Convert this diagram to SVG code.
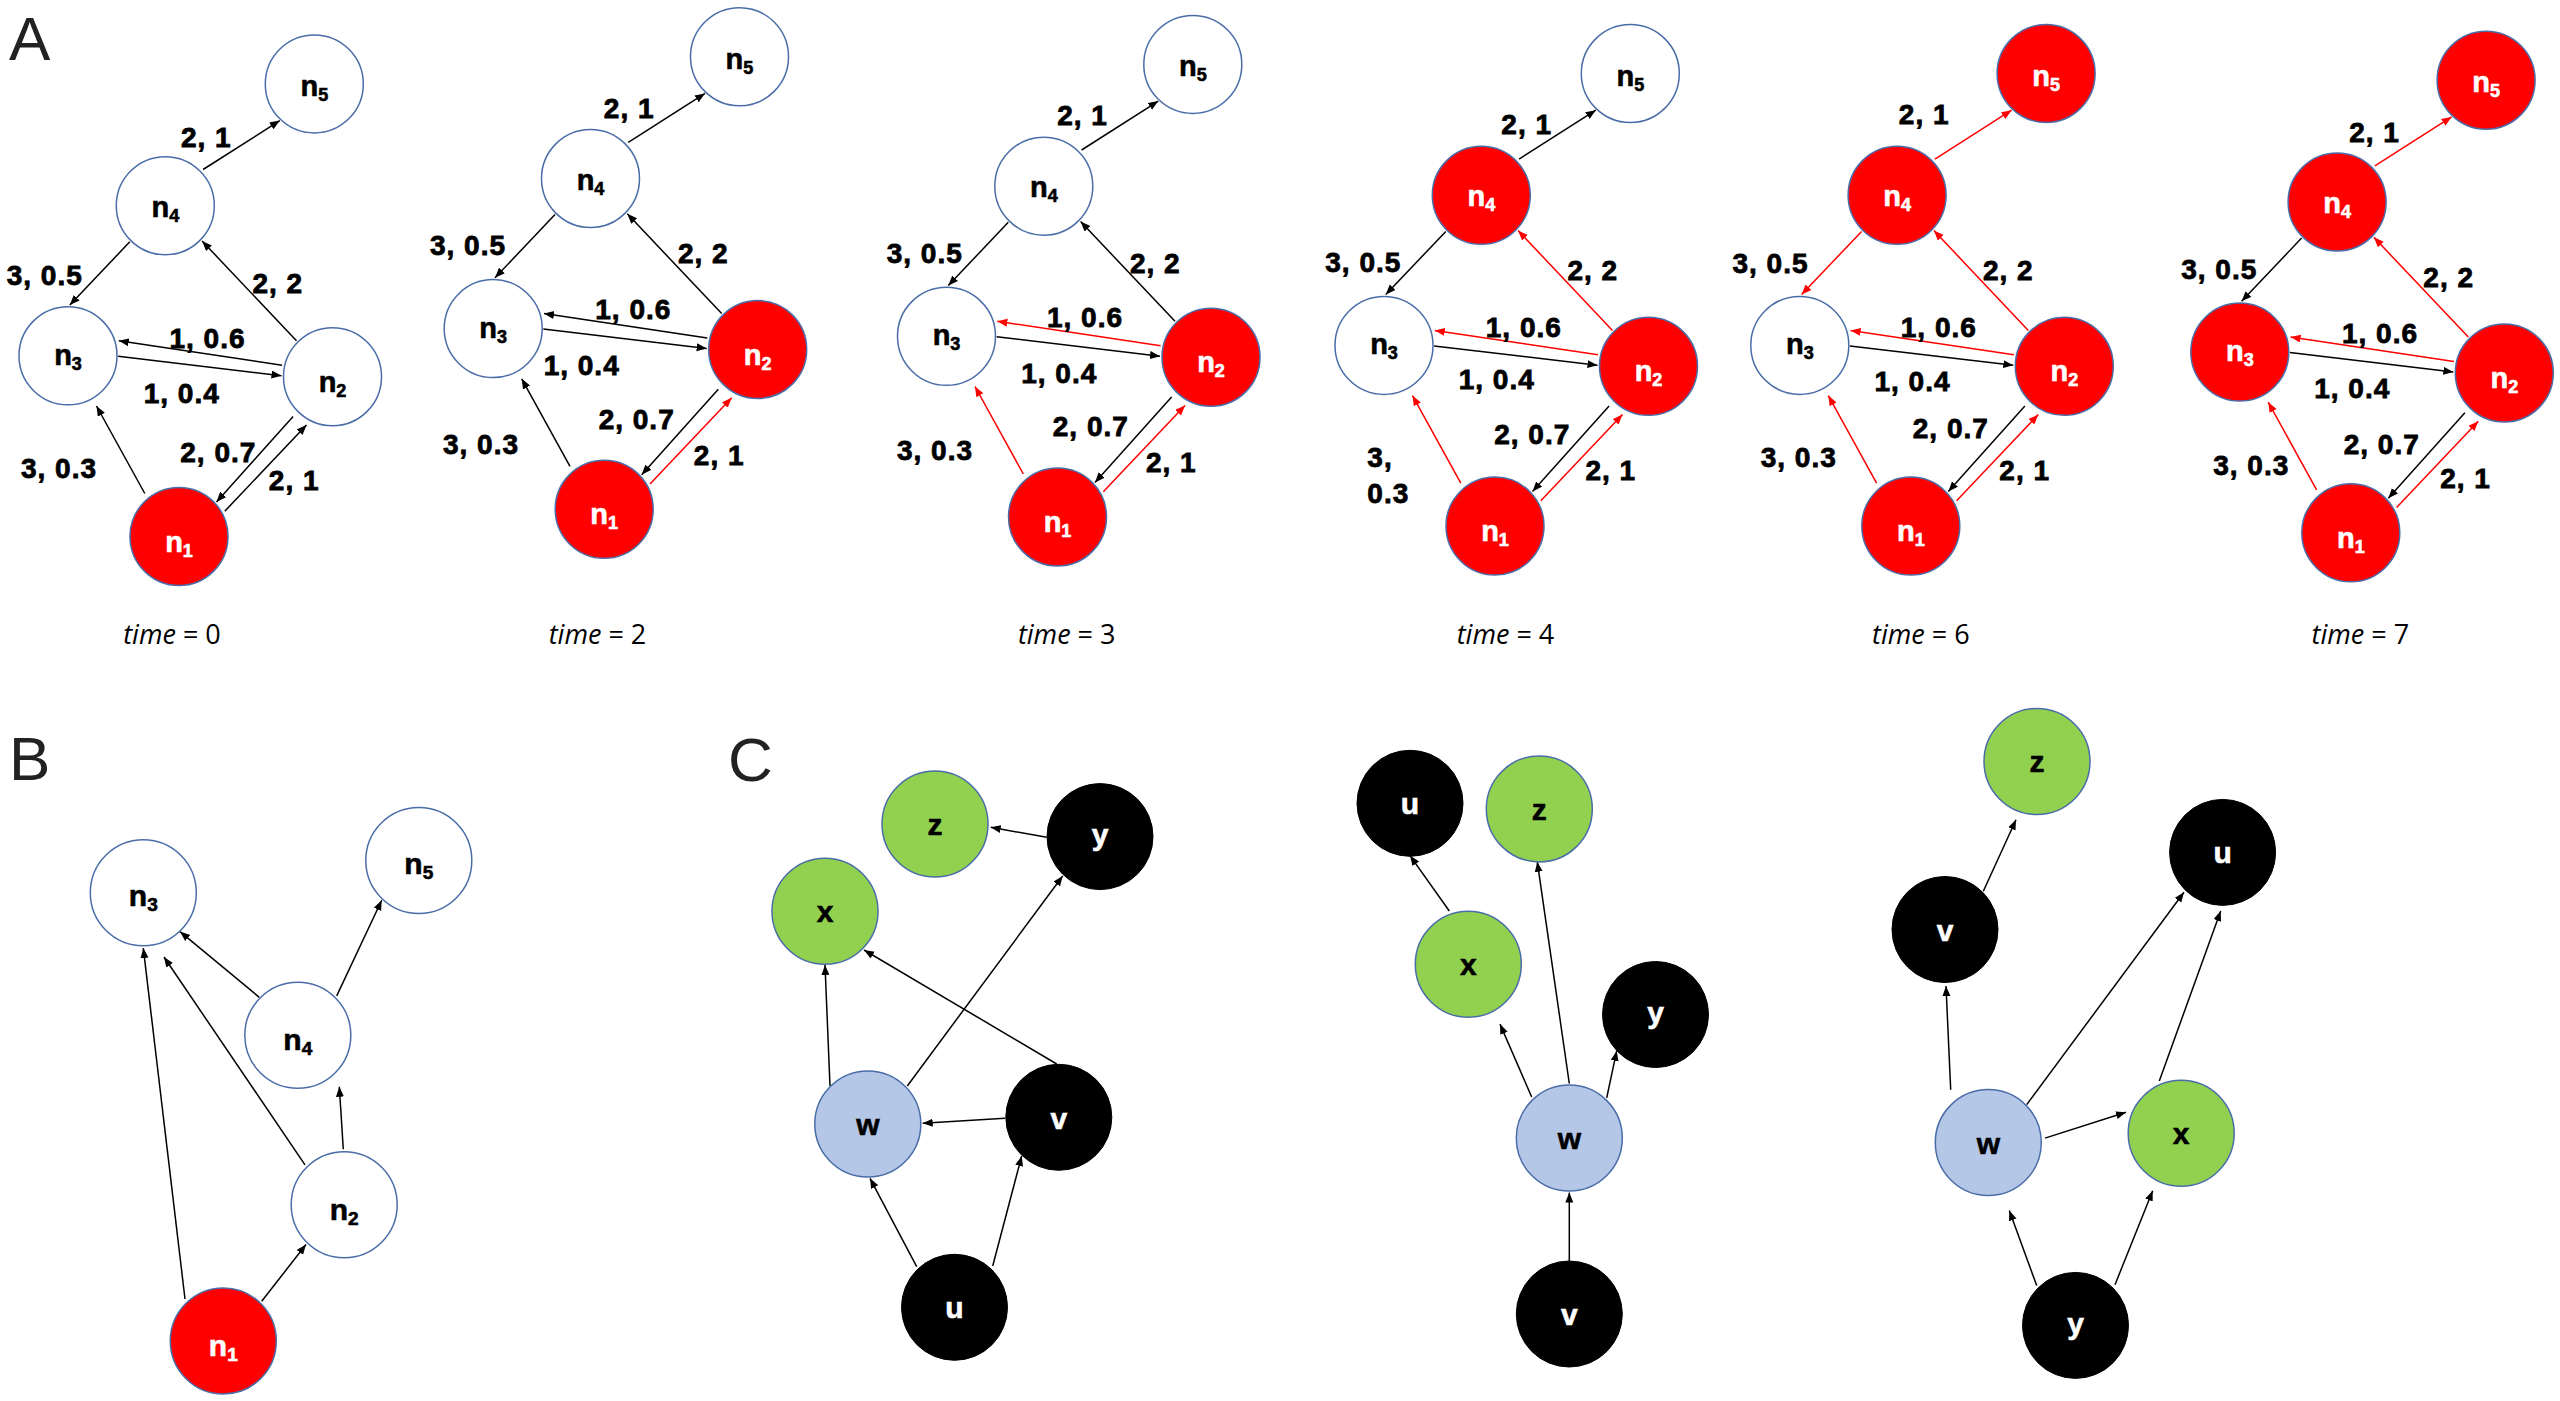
<svg xmlns="http://www.w3.org/2000/svg" width="2560" height="1401" viewBox="0 0 2560 1401">
<style>
.bg{fill:#fff}
.n{stroke:#4a6da8;stroke-width:1.5}
.w{fill:#fff}.r{fill:#ff0000}.g{fill:#92d050}.b{fill:#b4c7e7}.k{fill:#000;stroke:#000}
.nl{font-family:"Liberation Sans",Arial,sans-serif;font-weight:700;font-size:29px;text-anchor:middle;fill:#000;stroke:#000;stroke-width:0.6px}
.nb{font-size:30px}
.s{font-size:18px}
.sb{font-size:19px}
.cl{font-family:"Liberation Sans",Arial,sans-serif;font-weight:700;font-size:30px;text-anchor:middle;fill:#000;stroke:#000;stroke-width:0.6px}
.el{font-family:"Liberation Sans",Arial,sans-serif;font-weight:700;font-size:28px;text-anchor:middle;letter-spacing:1px;fill:#000;stroke:#000;stroke-width:0.8px}
.st{text-anchor:start}
.tm{font-family:"Open Sans",sans-serif;font-size:27px;text-anchor:middle;fill:#000}
.pl{font-family:"Liberation Sans",Arial,sans-serif;font-size:62px;fill:#222}
.ek{stroke:#000;stroke-width:1.5;fill:none;marker-end:url(#mk)}
.er{stroke:#ff0000;stroke-width:1.5;fill:none;marker-end:url(#mr)}
text.wt{fill:#fff;stroke:#fff}
</style>
<defs>
<marker id="mk" markerUnits="userSpaceOnUse" markerWidth="11" markerHeight="9" refX="10" refY="4" orient="auto"><path d="M0,0 L10,4 L0,8 z" fill="#000"/></marker>
<marker id="mr" markerUnits="userSpaceOnUse" markerWidth="11" markerHeight="9" refX="10" refY="4" orient="auto"><path d="M0,0 L10,4 L0,8 z" fill="#ff0000"/></marker>
</defs>
<rect class="bg" x="0" y="0" width="2560" height="1401"/>

<text class="pl" x="9" y="60">A</text>
<text class="pl" x="9" y="780">B</text>
<text class="pl" x="728" y="781">C</text>

<!-- ===== Panel A, time = 0 ===== -->
<g id="A-t0" transform="translate(179,536.5)">
 <g id="A-t0-connectors">
  <line class="ek" x1="24.1" y1="-367" x2="100.8" y2="-415.9"/>
  <line class="ek" x1="-49.2" y1="-294.7" x2="-109.2" y2="-231.5"/>
  <line class="ek" x1="117.5" y1="-195.7" x2="23.1" y2="-295.5"/>
  <line class="ek" x1="103.1" y1="-171.3" x2="-60.2" y2="-195.7"/>
  <line class="ek" x1="-60.9" y1="-180.2" x2="102.5" y2="-160.8"/>
  <line class="ek" x1="114.1" y1="-120" x2="37.5" y2="-34.6"/>
  <line class="ek" x1="45.8" y1="-25.3" x2="127.5" y2="-111.6"/>
  <line class="ek" x1="-34.2" y1="-43" x2="-82.5" y2="-130.5"/>
  <text class="el" x="27.3" y="-389.8">2, 1</text>
  <text class="el" x="-134.3" y="-251.5">3, 0.5</text>
  <text class="el" x="98.8" y="-243.2">2, 2</text>
  <text class="el" x="28.5" y="-188.2">1, 0.6</text>
  <text class="el" x="2.7" y="-133.2">1, 0.4</text>
  <text class="el" x="39.3" y="-74.8">2, 0.7</text>
  <text class="el" x="-120" y="-58.2">3, 0.3</text>
  <text class="el" x="115.2" y="-46.5">2, 1</text>
 </g>
 <g id="A-t0-n1"><circle class="n r" cx="0" cy="0" r="49"/><text class="nl wt" x="0" y="15">n<tspan class="s" dy="5">1</tspan></text></g>
 <g id="A-t0-n2"><circle class="n w" cx="153.5" cy="-159.8" r="49"/><text class="nl" x="153.5" y="-144.8">n<tspan class="s" dy="5">2</tspan></text></g>
 <g id="A-t0-n3"><circle class="n w" cx="-111" cy="-180.7" r="49"/><text class="nl" x="-111" y="-171.7">n<tspan class="s" dy="5">3</tspan></text></g>
 <g id="A-t0-n4"><circle class="n w" cx="-13.7" cy="-330.8" r="49"/><text class="nl" x="-13.7" y="-319.8">n<tspan class="s" dy="5">4</tspan></text></g>
 <g id="A-t0-n5"><circle class="n w" cx="135.3" cy="-452.6" r="49"/><text class="nl" x="135.3" y="-440.6">n<tspan class="s" dy="5">5</tspan></text></g>
</g>
<text class="tm" x="172" y="644"><tspan font-style="italic">time</tspan> = 0</text>

<!-- ===== Panel A, time = 2 ===== -->
<g id="A-t2" transform="translate(604.2,509.3)">
 <g id="A-t2-connectors">
  <line class="ek" x1="24.1" y1="-367" x2="100.8" y2="-415.9"/>
  <line class="ek" x1="-49.2" y1="-294.7" x2="-109.2" y2="-231.5"/>
  <line class="ek" x1="117.5" y1="-195.7" x2="23.1" y2="-295.5"/>
  <line class="ek" x1="103.1" y1="-171.3" x2="-60.2" y2="-195.7"/>
  <line class="ek" x1="-60.9" y1="-180.2" x2="102.5" y2="-160.8"/>
  <line class="ek" x1="114.1" y1="-120" x2="37.5" y2="-34.6"/>
  <line class="er" x1="45.8" y1="-25.3" x2="127.5" y2="-111.6"/>
  <line class="ek" x1="-34.2" y1="-43" x2="-82.5" y2="-130.5"/>
  <text class="el" x="25" y="-391.5">2, 1</text>
  <text class="el" x="-136.2" y="-254.7">3, 0.5</text>
  <text class="el" x="99.1" y="-246.3">2, 2</text>
  <text class="el" x="29.1" y="-190.3">1, 0.6</text>
  <text class="el" x="-22.5" y="-134.7">1, 0.4</text>
  <text class="el" x="32.5" y="-80.8">2, 0.7</text>
  <text class="el" x="-123.2" y="-55.6">3, 0.3</text>
  <text class="el" x="115" y="-44.2">2, 1</text>
 </g>
 <g id="A-t2-n1"><circle class="n r" cx="0" cy="0" r="49"/><text class="nl wt" x="0" y="15">n<tspan class="s" dy="5">1</tspan></text></g>
 <g id="A-t2-n2"><circle class="n r" cx="153.5" cy="-159.8" r="49"/><text class="nl wt" x="153.5" y="-144.8">n<tspan class="s" dy="5">2</tspan></text></g>
 <g id="A-t2-n3"><circle class="n w" cx="-111" cy="-180.7" r="49"/><text class="nl" x="-111" y="-171.7">n<tspan class="s" dy="5">3</tspan></text></g>
 <g id="A-t2-n4"><circle class="n w" cx="-13.7" cy="-330.8" r="49"/><text class="nl" x="-13.7" y="-319.8">n<tspan class="s" dy="5">4</tspan></text></g>
 <g id="A-t2-n5"><circle class="n w" cx="135.3" cy="-452.6" r="49"/><text class="nl" x="135.3" y="-440.6">n<tspan class="s" dy="5">5</tspan></text></g>
</g>
<text class="tm" x="597.5" y="644"><tspan font-style="italic">time</tspan> = 2</text>

<!-- ===== Panel A, time = 3 ===== -->
<g id="A-t3" transform="translate(1057.5,517)">
 <g id="A-t3-connectors">
  <line class="ek" x1="24.1" y1="-367" x2="100.8" y2="-415.9"/>
  <line class="ek" x1="-49.2" y1="-294.7" x2="-109.2" y2="-231.5"/>
  <line class="ek" x1="117.5" y1="-195.7" x2="23.1" y2="-295.5"/>
  <line class="er" x1="103.1" y1="-171.3" x2="-60.2" y2="-195.7"/>
  <line class="ek" x1="-60.9" y1="-180.2" x2="102.5" y2="-160.8"/>
  <line class="ek" x1="114.1" y1="-120" x2="37.5" y2="-34.6"/>
  <line class="er" x1="45.8" y1="-25.3" x2="127.5" y2="-111.6"/>
  <line class="er" x1="-34.2" y1="-43" x2="-82.5" y2="-130.5"/>
  <text class="el" x="25" y="-391.6">2, 1</text>
  <text class="el" x="-132.8" y="-254">3, 0.5</text>
  <text class="el" x="97.8" y="-244.3">2, 2</text>
  <text class="el" x="27.5" y="-189.6">1, 0.6</text>
  <text class="el" x="1.7" y="-134">1, 0.4</text>
  <text class="el" x="33.3" y="-81.4">2, 0.7</text>
  <text class="el" x="-122.5" y="-57.4">3, 0.3</text>
  <text class="el" x="113.8" y="-44.8">2, 1</text>
 </g>
 <g id="A-t3-n1"><circle class="n r" cx="0" cy="0" r="49"/><text class="nl wt" x="0" y="15">n<tspan class="s" dy="5">1</tspan></text></g>
 <g id="A-t3-n2"><circle class="n r" cx="153.5" cy="-159.8" r="49"/><text class="nl wt" x="153.5" y="-144.8">n<tspan class="s" dy="5">2</tspan></text></g>
 <g id="A-t3-n3"><circle class="n w" cx="-111" cy="-180.7" r="49"/><text class="nl" x="-111" y="-171.7">n<tspan class="s" dy="5">3</tspan></text></g>
 <g id="A-t3-n4"><circle class="n w" cx="-13.7" cy="-330.8" r="49"/><text class="nl" x="-13.7" y="-319.8">n<tspan class="s" dy="5">4</tspan></text></g>
 <g id="A-t3-n5"><circle class="n w" cx="135.3" cy="-452.6" r="49"/><text class="nl" x="135.3" y="-440.6">n<tspan class="s" dy="5">5</tspan></text></g>
</g>
<text class="tm" x="1066.7" y="644"><tspan font-style="italic">time</tspan> = 3</text>

<!-- ===== Panel A, time = 4 ===== -->
<g id="A-t4" transform="translate(1495,526.1)">
 <g id="A-t4-connectors">
  <line class="ek" x1="24.1" y1="-367" x2="100.8" y2="-415.9"/>
  <line class="ek" x1="-49.2" y1="-294.7" x2="-109.2" y2="-231.5"/>
  <line class="er" x1="117.5" y1="-195.7" x2="23.1" y2="-295.5"/>
  <line class="er" x1="103.1" y1="-171.3" x2="-60.2" y2="-195.7"/>
  <line class="ek" x1="-60.9" y1="-180.2" x2="102.5" y2="-160.8"/>
  <line class="ek" x1="114.1" y1="-120" x2="37.5" y2="-34.6"/>
  <line class="er" x1="45.8" y1="-25.3" x2="127.5" y2="-111.6"/>
  <line class="er" x1="-34.2" y1="-43" x2="-82.5" y2="-130.5"/>
  <text class="el" x="31.7" y="-392.3">2, 1</text>
  <text class="el" x="-131.7" y="-254.6">3, 0.5</text>
  <text class="el" x="97.8" y="-246.2">2, 2</text>
  <text class="el" x="28.8" y="-189.4">1, 0.6</text>
  <text class="el" x="1.7" y="-136.8">1, 0.4</text>
  <text class="el" x="37.2" y="-82.1">2, 0.7</text>
  <text class="el st" x="-127.7" y="-58.9">3,</text>
  <text class="el st" x="-127.7" y="-23.1">0.3</text>
  <text class="el" x="115.8" y="-46.3">2, 1</text>
 </g>
 <g id="A-t4-n1"><circle class="n r" cx="0" cy="0" r="49"/><text class="nl wt" x="0" y="15">n<tspan class="s" dy="5">1</tspan></text></g>
 <g id="A-t4-n2"><circle class="n r" cx="153.5" cy="-159.8" r="49"/><text class="nl wt" x="153.5" y="-144.8">n<tspan class="s" dy="5">2</tspan></text></g>
 <g id="A-t4-n3"><circle class="n w" cx="-111" cy="-180.7" r="49"/><text class="nl" x="-111" y="-171.7">n<tspan class="s" dy="5">3</tspan></text></g>
 <g id="A-t4-n4"><circle class="n r" cx="-13.7" cy="-330.8" r="49"/><text class="nl wt" x="-13.7" y="-319.8">n<tspan class="s" dy="5">4</tspan></text></g>
 <g id="A-t4-n5"><circle class="n w" cx="135.3" cy="-452.6" r="49"/><text class="nl" x="135.3" y="-440.6">n<tspan class="s" dy="5">5</tspan></text></g>
</g>
<text class="tm" x="1505.5" y="644"><tspan font-style="italic">time</tspan> = 4</text>

<!-- ===== Panel A, time = 6 ===== -->
<g id="A-t6" transform="translate(1910.8,526.1)">
 <g id="A-t6-connectors">
  <line class="er" x1="24.1" y1="-367" x2="100.8" y2="-415.9"/>
  <line class="er" x1="-49.2" y1="-294.7" x2="-109.2" y2="-231.5"/>
  <line class="er" x1="117.5" y1="-195.7" x2="23.1" y2="-295.5"/>
  <line class="er" x1="103.1" y1="-171.3" x2="-60.2" y2="-195.7"/>
  <line class="ek" x1="-60.9" y1="-180.2" x2="102.5" y2="-160.8"/>
  <line class="ek" x1="114.1" y1="-120" x2="37.5" y2="-34.6"/>
  <line class="er" x1="45.8" y1="-25.3" x2="127.5" y2="-111.6"/>
  <line class="er" x1="-34.2" y1="-43" x2="-82.5" y2="-130.5"/>
  <text class="el" x="13.4" y="-401.9">2, 1</text>
  <text class="el" x="-140.3" y="-253.4">3, 0.5</text>
  <text class="el" x="97.5" y="-246.2">2, 2</text>
  <text class="el" x="28" y="-189.4">1, 0.6</text>
  <text class="el" x="1.7" y="-135.5">1, 0.4</text>
  <text class="el" x="40" y="-88.4">2, 0.7</text>
  <text class="el" x="-112.1" y="-58.9">3, 0.3</text>
  <text class="el" x="113.9" y="-46.3">2, 1</text>
 </g>
 <g id="A-t6-n1"><circle class="n r" cx="0" cy="0" r="49"/><text class="nl wt" x="0" y="15">n<tspan class="s" dy="5">1</tspan></text></g>
 <g id="A-t6-n2"><circle class="n r" cx="153.5" cy="-159.8" r="49"/><text class="nl wt" x="153.5" y="-144.8">n<tspan class="s" dy="5">2</tspan></text></g>
 <g id="A-t6-n3"><circle class="n w" cx="-111" cy="-180.7" r="49"/><text class="nl" x="-111" y="-171.7">n<tspan class="s" dy="5">3</tspan></text></g>
 <g id="A-t6-n4"><circle class="n r" cx="-13.7" cy="-330.8" r="49"/><text class="nl wt" x="-13.7" y="-319.8">n<tspan class="s" dy="5">4</tspan></text></g>
 <g id="A-t6-n5"><circle class="n r" cx="135.3" cy="-452.6" r="49"/><text class="nl wt" x="135.3" y="-440.6">n<tspan class="s" dy="5">5</tspan></text></g>
</g>
<text class="tm" x="1920.8" y="644"><tspan font-style="italic">time</tspan> = 6</text>

<!-- ===== Panel A, time = 7 ===== -->
<g id="A-t7" transform="translate(2350.8,532.8)">
 <g id="A-t7-connectors">
  <line class="er" x1="24.1" y1="-367" x2="100.8" y2="-415.9"/>
  <line class="ek" x1="-49.2" y1="-294.7" x2="-109.2" y2="-231.5"/>
  <line class="er" x1="117.5" y1="-195.7" x2="23.1" y2="-295.5"/>
  <line class="er" x1="103.1" y1="-171.3" x2="-60.2" y2="-195.7"/>
  <line class="ek" x1="-60.9" y1="-180.2" x2="102.5" y2="-160.8"/>
  <line class="ek" x1="114.1" y1="-120" x2="37.5" y2="-34.6"/>
  <line class="er" x1="45.8" y1="-25.3" x2="127.5" y2="-111.6"/>
  <line class="er" x1="-34.2" y1="-43" x2="-82.5" y2="-130.5"/>
  <text class="el" x="23.7" y="-390.5">2, 1</text>
  <text class="el" x="-131.6" y="-254.2">3, 0.5</text>
  <text class="el" x="97.9" y="-245.8">2, 2</text>
  <text class="el" x="29.2" y="-189.8">1, 0.6</text>
  <text class="el" x="1.4" y="-135.1">1, 0.4</text>
  <text class="el" x="30.9" y="-79.1">2, 0.7</text>
  <text class="el" x="-99.6" y="-58.1">3, 0.3</text>
  <text class="el" x="114.7" y="-44.6">2, 1</text>
 </g>
 <g id="A-t7-n1"><circle class="n r" cx="0" cy="0" r="49"/><text class="nl wt" x="0" y="15">n<tspan class="s" dy="5">1</tspan></text></g>
 <g id="A-t7-n2"><circle class="n r" cx="153.5" cy="-159.8" r="49"/><text class="nl wt" x="153.5" y="-144.8">n<tspan class="s" dy="5">2</tspan></text></g>
 <g id="A-t7-n3"><circle class="n r" cx="-111" cy="-180.7" r="49"/><text class="nl wt" x="-111" y="-171.7">n<tspan class="s" dy="5">3</tspan></text></g>
 <g id="A-t7-n4"><circle class="n r" cx="-13.7" cy="-330.8" r="49"/><text class="nl wt" x="-13.7" y="-319.8">n<tspan class="s" dy="5">4</tspan></text></g>
 <g id="A-t7-n5"><circle class="n r" cx="135.3" cy="-452.6" r="49"/><text class="nl wt" x="135.3" y="-440.6">n<tspan class="s" dy="5">5</tspan></text></g>
</g>
<text class="tm" x="2360.3" y="644"><tspan font-style="italic">time</tspan> = 7</text>

<!-- ===== Panel B ===== -->
<g id="B">
 <g id="B-connectors">
  <line class="ek" x1="185" y1="1299" x2="143.3" y2="948.1"/>
  <line class="ek" x1="261.7" y1="1301.3" x2="306" y2="1244.5"/>
  <line class="ek" x1="305" y1="1164.9" x2="164" y2="957"/>
  <line class="ek" x1="343.3" y1="1149.3" x2="339.3" y2="1086.7"/>
  <line class="ek" x1="259.3" y1="997.3" x2="180" y2="931.6"/>
  <line class="ek" x1="336.7" y1="995.9" x2="381.7" y2="900.3"/>
 </g>
 <g id="B-n3"><circle class="n w" cx="143.3" cy="892.7" r="53"/><text class="nl nb" x="143.3" y="906">n<tspan class="sb" dy="5">3</tspan></text></g>
 <g id="B-n5"><circle class="n w" cx="418.8" cy="860.5" r="53"/><text class="nl nb" x="418.8" y="874">n<tspan class="sb" dy="5">5</tspan></text></g>
 <g id="B-n4"><circle class="n w" cx="297.8" cy="1035.3" r="53"/><text class="nl nb" x="297.8" y="1050">n<tspan class="sb" dy="5">4</tspan></text></g>
 <g id="B-n2"><circle class="n w" cx="344.2" cy="1204.7" r="53"/><text class="nl nb" x="344.2" y="1220">n<tspan class="sb" dy="5">2</tspan></text></g>
 <g id="B-n1"><circle class="n r" cx="223.3" cy="1341" r="53"/><text class="nl nb wt" x="223.3" y="1356">n<tspan class="sb" dy="5">1</tspan></text></g>
</g>

<!-- ===== Panel C, graph 1 ===== -->
<g id="C1">
 <g id="C1-connectors">
  <line class="ek" x1="1046.7" y1="837.3" x2="990.7" y2="827.3"/>
  <line class="ek" x1="830" y1="1086" x2="825" y2="965"/>
  <line class="ek" x1="907.3" y1="1086" x2="1062.7" y2="876"/>
  <line class="ek" x1="1056.7" y1="1064" x2="864" y2="950"/>
  <line class="ek" x1="1005" y1="1118.3" x2="922.7" y2="1123.3"/>
  <line class="ek" x1="916.7" y1="1266.7" x2="870" y2="1178.3"/>
  <line class="ek" x1="992.7" y1="1266" x2="1021.7" y2="1156"/>
 </g>
 <g id="C1-z"><circle class="n g" cx="935" cy="824" r="53"/><text class="cl" x="935" y="835">z</text></g>
 <g id="C1-y"><circle class="k" cx="1100" cy="836.6" r="53"/><text class="cl wt" x="1100" y="845">y</text></g>
 <g id="C1-x"><circle class="n g" cx="825" cy="911.2" r="53"/><text class="cl" x="825" y="922">x</text></g>
 <g id="C1-w"><circle class="n b" cx="867.8" cy="1124" r="53"/><text class="cl" x="867.8" y="1135">w</text></g>
 <g id="C1-v"><circle class="k" cx="1058.8" cy="1117.3" r="53"/><text class="cl wt" x="1058.8" y="1129">v</text></g>
 <g id="C1-u"><circle class="k" cx="954.5" cy="1307.3" r="53"/><text class="cl wt" x="954.5" y="1318">u</text></g>
</g>

<!-- ===== Panel C, graph 2 ===== -->
<g id="C2">
 <g id="C2-connectors">
  <line class="ek" x1="1449.3" y1="911" x2="1410" y2="855.6"/>
  <line class="ek" x1="1531.7" y1="1097" x2="1500" y2="1024.1"/>
  <line class="ek" x1="1569.3" y1="1083.5" x2="1537.3" y2="861.8"/>
  <line class="ek" x1="1606.7" y1="1097.9" x2="1616.7" y2="1050.9"/>
  <line class="ek" x1="1569.3" y1="1261" x2="1569.3" y2="1192.6"/>
 </g>
 <g id="C2-u"><circle class="k" cx="1410" cy="803.3" r="53"/><text class="cl wt" x="1410" y="814">u</text></g>
 <g id="C2-z"><circle class="n g" cx="1539.3" cy="808.9" r="53"/><text class="cl" x="1539.3" y="820">z</text></g>
 <g id="C2-x"><circle class="n g" cx="1468.3" cy="964.2" r="53"/><text class="cl" x="1468.3" y="975">x</text></g>
 <g id="C2-y"><circle class="k" cx="1655.5" cy="1014.5" r="53"/><text class="cl wt" x="1655.5" y="1023">y</text></g>
 <g id="C2-w"><circle class="n b" cx="1569.3" cy="1138.1" r="53"/><text class="cl" x="1569.3" y="1149">w</text></g>
 <g id="C2-v"><circle class="k" cx="1569.3" cy="1314" r="53"/><text class="cl wt" x="1569.3" y="1325">v</text></g>
</g>

<!-- ===== Panel C, graph 3 ===== -->
<g id="C3">
 <g id="C3-connectors">
  <line class="ek" x1="1983.3" y1="891.3" x2="2016" y2="819.8"/>
  <line class="ek" x1="1950.7" y1="1089.8" x2="1946" y2="986.1"/>
  <line class="ek" x1="2026.7" y1="1104.6" x2="2184" y2="892.2"/>
  <line class="ek" x1="2159.3" y1="1080.9" x2="2220.7" y2="911"/>
  <line class="ek" x1="2045" y1="1138.1" x2="2126" y2="1112.2"/>
  <line class="ek" x1="2036.7" y1="1285.6" x2="2009.3" y2="1210.5"/>
  <line class="ek" x1="2115" y1="1284.7" x2="2152.7" y2="1190.8"/>
 </g>
 <g id="C3-z"><circle class="n g" cx="2037" cy="761.5" r="53"/><text class="cl" x="2037" y="772">z</text></g>
 <g id="C3-u"><circle class="k" cx="2222.6" cy="852.4" r="53"/><text class="cl wt" x="2222.6" y="863">u</text></g>
 <g id="C3-v"><circle class="k" cx="1945" cy="929.5" r="53"/><text class="cl wt" x="1945" y="941">v</text></g>
 <g id="C3-w"><circle class="n b" cx="1988.3" cy="1142.6" r="53"/><text class="cl" x="1988.3" y="1154">w</text></g>
 <g id="C3-x"><circle class="n g" cx="2181.2" cy="1133.2" r="53"/><text class="cl" x="2181.2" y="1144">x</text></g>
 <g id="C3-y"><circle class="k" cx="2075.5" cy="1325.4" r="53"/><text class="cl wt" x="2075.5" y="1334">y</text></g>
</g>
</svg>
